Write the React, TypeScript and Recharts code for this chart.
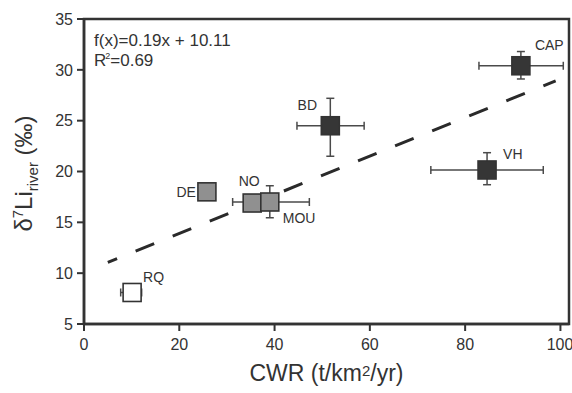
import React from 'react';
import {
  ComposedChart,
  Scatter,
  XAxis,
  YAxis,
  ErrorBar,
  ReferenceArea,
  ReferenceLine,
  Customized,
} from 'recharts';

// ---- data ----
const riverNames = ['CAP', 'BD', 'VH', 'DE', 'NO', 'MOU', 'RQ'];
const cwr = [91.7, 51.7, 84.6, 25.8, 35.3, 39.0, 10.1];
const d7Li = [30.4, 24.5, 20.15, 18.0, 16.9, 17.0, 8.1];
const cwrErrLow = [8.8, 7.0, 11.8, 0, 0, 7.8, 2.4];
const cwrErrHigh = [8.9, 7.1, 11.8, 0, 0, 8.3, 2.0];
const liErrLow = [1.3, 3.0, 1.45, 0, 0, 1.55, 0];
const liErrHigh = [1.4, 2.7, 1.7, 0, 0, 1.6, 0];
const riverGroup = ['dark', 'dark', 'dark', 'gray', 'gray', 'gray', 'open'];
const trendX = [5, 99];
const trendY = [11.06, 28.92];
const xTicks = [0, 20, 40, 60, 80, 100];
const yTicks = [5, 10, 15, 20, 25, 30, 35];
const fitText = 'f(x)=0.19x + 10.11';
const r2Text = '=0.69';

// ---- styles ----
const FONT = '"Liberation Sans", Arial, sans-serif';
const INK = '#333333';
const groupFill: Record<string, string> = { dark: '#363636', gray: '#909090', open: '#ffffff' };
const labelPos: Record<string, { dx: number; dy: number; anchor: 'start' | 'middle' | 'end' }> = {
  CAP: { dx: 14, dy: -16, anchor: 'start' },
  BD: { dx: -23, dy: -16, anchor: 'middle' },
  VH: { dx: 16, dy: -11, anchor: 'start' },
  DE: { dx: -11, dy: 5, anchor: 'end' },
  NO: { dx: -3, dy: -17, anchor: 'middle' },
  MOU: { dx: 13, dy: 21, anchor: 'start' },
  RQ: { dx: 11, dy: -10, anchor: 'start' },
};

const rows = riverNames.map((name, i) => ({
  name,
  x: cwr[i],
  y: d7Li[i],
  xErr: [cwrErrLow[i], cwrErrHigh[i]],
  yErr: [liErrLow[i], liErrHigh[i]],
  group: riverGroup[i],
}));

const byGroup = (g: string) => rows.filter((r) => r.group === g);

const SquareShape = (props: any) => {
  const { cx, cy, payload } = props;
  if (cx == null || cy == null) return <g />;
  const s = 18;
  const lp = labelPos[payload.name];
  return (
    <g>
      <rect
        x={cx - s / 2}
        y={cy - s / 2}
        width={s}
        height={s}
        fill={groupFill[payload.group]}
        stroke={INK}
        strokeWidth={1.6}
      />
      <text
        x={cx + lp.dx}
        y={cy + lp.dy}
        textAnchor={lp.anchor}
        fontSize={14}
        fontFamily={FONT}
        fill={INK}
      >
        {payload.name}
      </text>
    </g>
  );
};

const YLabel = (props: any) => {
  const vb = props.viewBox || { y: 19, height: 305 };
  const cy = vb.y + vb.height / 2 + 2;
  const bx = 32;
  return (
    <text
      x={bx}
      y={cy}
      transform={`rotate(-90 ${bx} ${cy})`}
      textAnchor="middle"
      fontSize={24}
      fontFamily={FONT}
      fill={INK}
    >
      δ
      <tspan fontSize={15} dy={-9}>7</tspan>
      <tspan fontSize={24} dy={9}>Li</tspan>
      <tspan fontSize={15} dy={6}>river</tspan>
      <tspan fontSize={24} dy={-6}>{' (‰)'}</tspan>
    </text>
  );
};

const XLabel = (props: any) => {
  const vb = props.viewBox || { x: 84, width: 485 };
  const cx = vb.x + vb.width / 2;
  return (
    <text x={cx} y={381} textAnchor="middle" fontSize={23} fontFamily={FONT} fill={INK}>
      CWR (t/km
      <tspan fontSize={15} dy={-5}>2</tspan>
      <tspan fontSize={23} dy={5}>/yr)</tspan>
    </text>
  );
};

const Annotation = () => (
  <g fontFamily={FONT} fill={INK}>
    <text x={94} y={46} fontSize={17}>
      {fitText}
    </text>
    <text x={94} y={66} fontSize={17}>
      R
      <tspan fontSize={9} dy={-7} dx={-1}>2</tspan>
      <tspan fontSize={17} dy={7}>{r2Text}</tspan>
    </text>
  </g>
);

const tickStyle = { fontSize: 16, fontFamily: FONT, fill: INK };

export default function App() {
  return (
    <div style={{ position: 'absolute', left: 0, top: 0 }}>
      <ComposedChart
        width={572}
        height={393}
        margin={{ top: 19, right: 3, bottom: 0, left: 0 }}
      >
        <XAxis
          type="number"
          dataKey="x"
          domain={[0, 101.8]}
          ticks={xTicks}
          allowDataOverflow
          height={69}
          tickSize={7}
          tickMargin={8}
          tick={tickStyle}
          axisLine={{ stroke: INK, strokeWidth: 2.5 }}
          tickLine={{ stroke: INK, strokeWidth: 2 }}
          label={{ content: XLabel }}
        />
        <YAxis
          type="number"
          dataKey="y"
          domain={[5, 35]}
          ticks={yTicks}
          allowDataOverflow
          width={84}
          tickSize={7}
          tickMargin={4}
          tick={tickStyle}
          axisLine={{ stroke: INK, strokeWidth: 2.5 }}
          tickLine={{ stroke: INK, strokeWidth: 2 }}
          label={{ content: YLabel }}
        />
        <ReferenceArea
          x1={0}
          x2={101.8}
          y1={5}
          y2={35}
          fill="none"
          fillOpacity={0}
          stroke={INK}
          strokeWidth={2.5}
          ifOverflow="visible"
        />
        <ReferenceLine
          segment={[
            { x: trendX[0], y: trendY[0] },
            { x: trendX[1], y: trendY[1] },
          ]}
          stroke="#2a2a2a"
          strokeWidth={3}
          strokeDasharray="20 20"
          strokeDashoffset={10}
          ifOverflow="visible"
        />
        {['dark', 'gray', 'open'].map((g) => (
          <Scatter
            key={g}
            data={byGroup(g)}
            dataKey="y"
            shape={SquareShape}
            isAnimationActive={false}
          >
            <ErrorBar
              dataKey="xErr"
              direction="x"
              width={4}
              stroke="#4a4a4a"
              strokeWidth={1.5}
              isAnimationActive={false}
            />
            <ErrorBar
              dataKey="yErr"
              direction="y"
              width={4}
              stroke="#4a4a4a"
              strokeWidth={1.5}
              isAnimationActive={false}
            />
          </Scatter>
        ))}
        <Customized component={Annotation} />
      </ComposedChart>
    </div>
  );
}
